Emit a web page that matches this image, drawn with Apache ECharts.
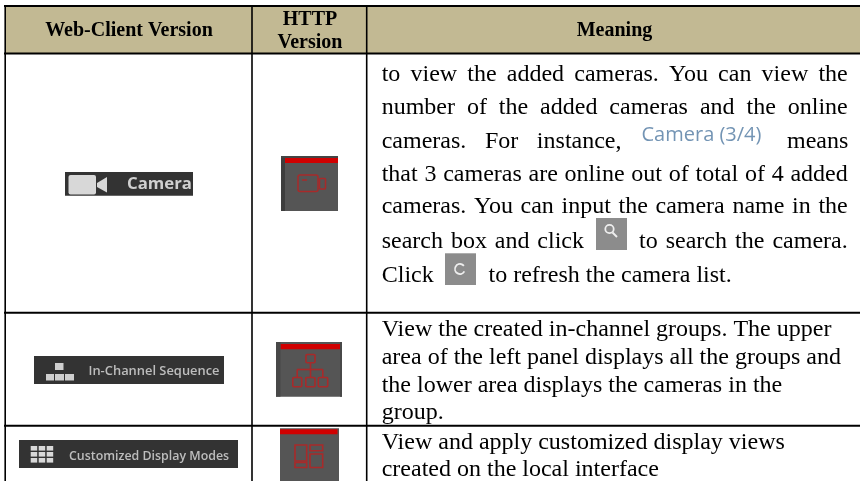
<!DOCTYPE html>
<html><head><meta charset="utf-8">
<style>html,body{margin:0;padding:0;background:#fff}#c{width:860px;height:481px}</style>
<script src="https://cdn.jsdelivr.net/npm/echarts@6/dist/echarts.min.js"></script>
</head><body><div id="c"></div>
<script>
var headers = ['Web-Client Version', 'HTTP', 'Version', 'Meaning'];
var webLabels = ['Camera', 'In-Channel Sequence', 'Customized Display Modes'];
var inlineLabel = 'Camera (3/4)';
var row1Text = [
  'to view the added cameras. You can view the',
  'number of the added cameras and the online',
  'cameras. For instance,', 'means',
  'that 3 cameras are online out of total of 4 added',
  'cameras. You can input the camera name in the',
  'search box and click', 'to search the camera.',
  'Click', 'to refresh the camera list.'
];
var row2Text = [
  'View the created in-channel groups. The upper',
  'area of the left panel displays all the groups and',
  'the lower area displays the cameras in the',
  'group.'
];
var row3Text = [
  'View and apply customized display views',
  'created on the local interface'
];

var els = [];
var SERIF = '"Liberation Serif","Times New Roman",serif';
var SANS = '"Open Sans","Noto Sans",sans-serif';
var BODY = 24;
var measure = document.createElement('canvas').getContext('2d');
function width(t, font){ measure.font = font; return measure.measureText(t).width; }

function rect(x0,y0,x1,y1,fill,z){
  els.push({type:'rect',z:z||1,silent:true,shape:{x:x0,y:y0,width:x1-x0,height:y1-y0},style:{fill:fill}});
}
function box(x0,y0,x1,y1,stroke,lw,r){
  els.push({type:'rect',z:5,silent:true,shape:{x:x0,y:y0,width:x1-x0,height:y1-y0,r:r||0},
    style:{fill:'none',stroke:stroke,lineWidth:lw||1.5}});
}
function seg(x0,y0,x1,y1,stroke,lw,z){
  els.push({type:'line',z:z||5,silent:true,shape:{x1:x0,y1:y0,x2:x1,y2:y1},style:{stroke:stroke,lineWidth:lw||1.5}});
}
function text(t,x,cy,o){
  o=o||{};
  els.push({type:'text',z:o.z||6,silent:true,x:x,y:cy,style:{text:t,
    font:o.font||(BODY+'px '+SERIF),fill:o.fill||'#000',
    align:o.align||'left',verticalAlign:'middle',
    shadowBlur:o.blur||0,shadowColor:o.blur?(o.fill||'#000'):'transparent'}});
}
function bodyAt(t,x,base){ text(t,x,base+1-0.3375*BODY); }
function justified(t,x0,x1,base){
  var font=BODY+'px '+SERIF, words=t.split(' ');
  var total=0; words.forEach(function(w){total+=width(w,font);});
  var gap=words.length>1?(x1-x0-total)/(words.length-1):0, x=x0;
  words.forEach(function(w){ bodyAt(w,x,base); x+=width(w,font)+gap; });
}

rect(5,6,860,53.5,'#c2b993');

var HB='bold 20px '+SERIF;
text(headers[0],129,31,{font:HB,align:'center'});
text(headers[1],310,20,{font:HB,align:'center'});
text(headers[2],310,43,{font:HB,align:'center'});
text(headers[3],614.5,31,{font:HB,align:'center'});

var L=381.7,R=847.7;
justified(row1Text[0],L,R,82);
justified(row1Text[1],L,R,114.5);
justified(row1Text[2],L,621.5,149);
justified(row1Text[3],787,R,149);
justified(row1Text[4],L,R,181.5);
justified(row1Text[5],L,R,213.5);
justified(row1Text[6],L,584,248.5);
justified(row1Text[7],639,R,248.5);
bodyAt(row1Text[8],L,283);
bodyAt(row1Text[9],488.5,283);
[336.5,364.5,392.5,420].forEach(function(b,i){bodyAt(row2Text[i],L,b);});
[450,476.5].forEach(function(b,i){bodyAt(row3Text[i],L,b);});

text(inlineLabel,641.5,135.5,{font:'20px '+SANS,fill:'#7394b4'});

rect(596,218,627,250,'#8c8c8c');
els.push({type:'circle',z:5,silent:true,shape:{cx:609.5,cy:229,r:4.2},style:{fill:'none',stroke:'#eee',lineWidth:1.8}});
seg(612.5,232.5,617,237,'#eee',2);
rect(445,253.3,476,285,'#8c8c8c');
els.push({type:'arc',z:5,silent:true,shape:{cx:460,cy:269,r:5,startAngle:0.5,endAngle:5.6},style:{fill:'none',stroke:'#eee',lineWidth:1.8}});

rect(65,172,193,195.7,'#333333');
els.push({type:'rect',z:3,silent:true,shape:{x:68.5,y:175,width:27.5,height:19.5,r:2},style:{fill:'#d8d8d8'}});
els.push({type:'polygon',z:3,silent:true,shape:{points:[[97,183],[107,177],[107,192.6],[97,187]]},style:{fill:'#d8d8d8'}});
text(webLabels[0],127,184,{font:'bold 16.8px '+SANS,fill:'#d0d0d0',blur:1});
rect(34,356,224,384,'#333333');
rect(55,363,63.5,370,'#cfcfcf',3);
rect(46,374,54,380.5,'#cfcfcf',3);
rect(55,374,64,380.5,'#cfcfcf',3);
rect(65,374,74,380.5,'#cfcfcf',3);
text(webLabels[1],88.5,371,{font:'600 12.9px '+SANS,fill:'#bdbdbd',blur:1});
rect(19,440,238,468,'#333333');
[0,1,2].forEach(function(r){[0,1,2].forEach(function(c){
  rect(30.7+c*8,446+r*6,37.2+c*8,450.6+r*6,'#d8d8d8',3);
});});
text(webLabels[2],69,456,{font:'600 12.4px '+SANS,fill:'#bdbdbd',blur:1});

var RED='#a82a2a', BAR='#d00000';
rect(281,156,338,211,'#555555');
rect(281,156,285,211,'#3e3e3e',2);
rect(281,156,338,158,'#444444',2);
rect(285,158,338,163,BAR,3);
box(298,175,318,191.5,RED,1.5,2);
box(319.5,178.5,325.5,189,RED,1.5,1);
seg(302,180,307,180,RED,1.5);
rect(276,342,342,396.7,'#555555');
rect(276,342,280.5,396.7,'#484848',2);
rect(340,342,342,396.7,'#484848',2);
rect(280.7,344,340,349.3,BAR,3);
box(306,354.5,315,362.7,RED,1.6,1);
seg(310.5,362.7,310.5,377.5,RED,1.6);
seg(297.2,369.5,322.8,369.5,RED,1.6);
seg(297.2,369.5,297.2,377.5,RED,1.6);
seg(322.8,369.5,322.8,377.5,RED,1.6);
box(292.8,377.5,301.7,386.7,RED,1.6,1);
box(305.8,377.5,315,386.7,RED,1.6,1);
box(318.3,377.5,327.7,386.7,RED,1.6,1);
rect(280,428.3,339,481,'#555555');
rect(280,429.3,337.5,434.3,BAR,3);
box(295,445,306.7,461,RED,1.6);
box(310,445,322.7,450.7,RED,1.6);
box(295,462.5,306.7,467.5,RED,1.6);
box(310,454,322.7,467.5,RED,1.6);

var K='#000';
seg(4,6,860,6,K,2,8);
seg(4,53.5,860,53.5,K,2,8);
seg(4,312.7,860,312.7,K,2,8);
seg(4,425.7,860,425.7,K,2,8);
seg(5.2,5,5.2,481,K,1.6,8);
seg(252,5,252,481,K,1.6,8);
seg(366.7,5,366.7,481,K,1.6,8);

var chart=echarts.init(document.getElementById('c'),null,{renderer:'canvas'});
chart.setOption({animation:false,backgroundColor:'#fff',graphic:{elements:els}});
</script>
</body></html>
